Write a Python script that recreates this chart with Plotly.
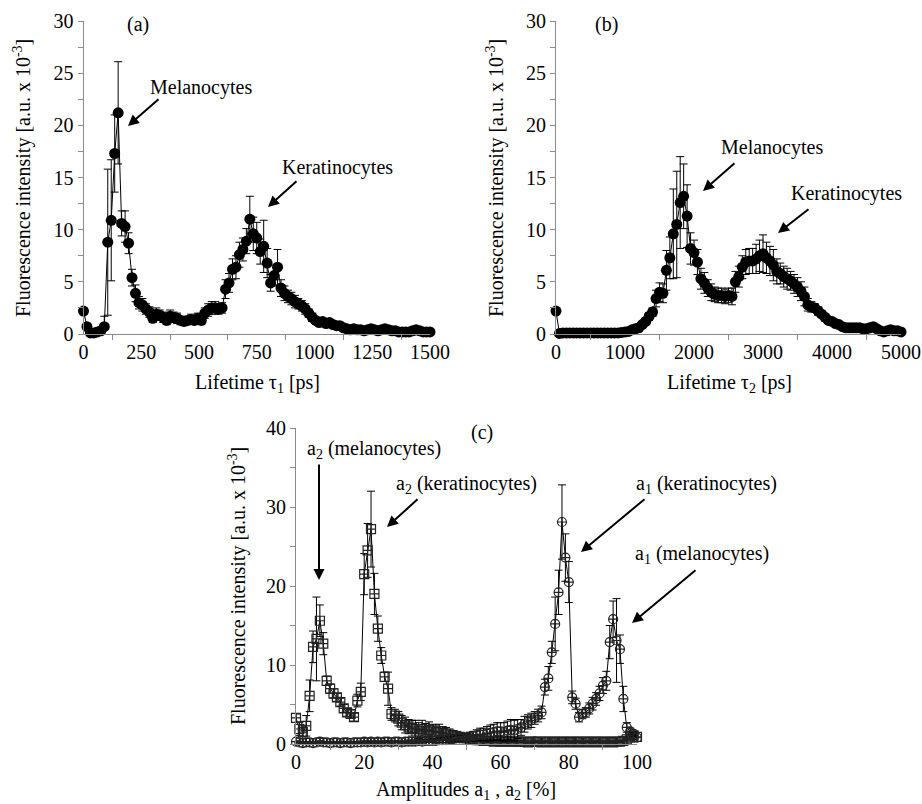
import plotly.graph_objects as go

W, H = 922, 804
FONT = "Liberation Serif, Times New Roman, Times, serif"

# ---------------- data ----------------
# Panel (a): lifetime tau1 [ps]
tau1_ps = list(range(0, 1501, 15))
intensity_a = [2.2, 0.7, 0.1, 0.1, 0.2, 0.3, 0.7, 8.8, 10.9, 17.3,
               21.2, 10.6, 10.3, 8.7, 5.4, 3.9, 3.0, 2.8, 2.4, 2.1,
               1.5, 1.9, 1.8, 1.6, 1.3, 1.7, 1.6, 1.5, 1.3, 1.2,
               1.3, 1.4, 1.3, 1.5, 1.3, 2.0, 2.3, 2.5, 2.5, 2.4,
               2.5, 4.3, 4.9, 6.2, 6.4, 7.6, 8.1, 8.9, 11.0, 9.6,
               9.2, 7.9, 8.4, 6.8, 4.9, 5.6, 6.4, 4.4, 3.9, 3.6,
               3.4, 3.1, 2.9, 2.7, 2.4, 2.0, 1.6, 1.3, 1.1, 1.2,
               1.0, 1.1, 0.9, 0.8, 0.8, 0.6, 0.5, 0.4, 0.5, 0.4,
               0.4, 0.3, 0.4, 0.5, 0.4, 0.3, 0.4, 0.5, 0.4, 0.3,
               0.3, 0.2, 0.2, 0.2, 0.2, 0.3, 0.4, 0.3, 0.2, 0.2,
               0.2]
error_a = [0.3, 0.2, 0.1, 0.1, 0.1, 0.2, 1.0, 7.0, 5.8, 3.7,
           4.9, 1.2, 1.5, 1.0, 0.8, 0.8, 0.6, 0.6, 0.5, 0.5,
           0.4, 0.6, 0.5, 0.5, 0.4, 0.6, 0.5, 0.5, 0.4, 0.4,
           0.4, 0.5, 0.4, 0.5, 0.4, 0.5, 0.6, 0.6, 0.6, 0.5,
           0.5, 0.9, 0.9, 1.0, 1.1, 1.2, 1.1, 1.2, 2.2, 1.6,
           1.5, 1.2, 2.5, 1.4, 0.8, 1.0, 1.7, 0.8, 0.7, 0.6,
           0.6, 0.6, 0.5, 0.5, 0.5, 0.4, 0.4, 0.3, 0.3, 0.3,
           0.3, 0.3, 0.2, 0.2, 0.2, 0.2, 0.2, 0.1, 0.2, 0.1,
           0.1, 0.1, 0.1, 0.2, 0.1, 0.1, 0.1, 0.2, 0.1, 0.1,
           0.1, 0.1, 0.1, 0.1, 0.1, 0.1, 0.2, 0.1, 0.1, 0.1,
           0.1]

# Panel (b): lifetime tau2 [ps]
tau2_ps = list(range(0, 5001, 50))
intensity_b = [2.2, 0.05, 0.1, 0.1, 0.1, 0.1, 0.1, 0.1, 0.1, 0.1,
               0.1, 0.1, 0.1, 0.1, 0.1, 0.1, 0.1, 0.1, 0.1, 0.15,
               0.2, 0.25, 0.4, 0.5, 0.6, 0.9, 1.2, 1.7, 2.1, 3.4,
               4.0, 3.9, 6.1, 7.3, 9.6, 10.5, 12.6, 13.2, 11.3, 8.2,
               7.8, 6.9, 5.3, 4.9, 4.4, 4.0, 3.8, 3.7, 3.7, 3.6,
               3.7, 3.6, 5.0, 5.5, 6.4, 6.9, 7.0, 7.0, 7.2, 7.5,
               7.7, 7.3, 7.0, 6.6, 6.0, 5.8, 5.5, 5.3, 5.1, 4.8,
               4.5, 4.1, 3.6, 2.8, 2.6, 2.5, 2.2, 1.9, 1.6, 1.3,
               1.2, 1.0, 0.9, 0.7, 0.6, 0.6, 0.6, 0.6, 0.6, 0.5,
               0.5, 0.6, 0.7, 0.5, 0.3, 0.2, 0.3, 0.4, 0.3, 0.3,
               0.2]
error_b = [0.2, 0.05, 0.05, 0.05, 0.05, 0.05, 0.05, 0.05, 0.05, 0.05,
           0.05, 0.05, 0.05, 0.05, 0.05, 0.05, 0.05, 0.05, 0.05, 0.05,
           0.1, 0.1, 0.1, 0.1, 0.2, 0.2, 0.3, 0.3, 0.4, 0.8,
           0.9, 0.9, 1.9, 2.0, 4.3, 5.1, 4.4, 3.1, 3.0, 1.5,
           1.2, 1.2, 1.0, 1.0, 0.8, 0.8, 0.7, 0.7, 0.7, 0.7,
           0.7, 0.8, 1.0, 1.0, 1.1, 1.2, 1.2, 1.2, 1.4, 1.5,
           1.8, 1.5, 1.4, 1.5, 1.2, 1.0, 1.0, 1.0, 0.9, 0.9,
           0.9, 0.9, 0.9, 0.6, 0.5, 0.4, 0.4, 0.3, 0.3, 0.3,
           0.2, 0.2, 0.2, 0.1, 0.1, 0.1, 0.1, 0.1, 0.1, 0.1,
           0.1, 0.1, 0.1, 0.1, 0.1, 0.1, 0.1, 0.1, 0.1, 0.1,
           0.1]

# Panel (c): amplitudes a1, a2 [%]
amplitude_pct = list(range(0, 101))
intensity_a2 = [3.3, 1.9, 1.5, 2.3, 6.1, 12.3, 13.3, 15.6, 12.7, 8.0,
                7.0, 6.4, 5.9, 5.3, 4.5, 4.0, 3.8, 3.4, 5.5, 6.6,
                21.5, 24.5, 27.2, 19.0, 14.6, 11.2, 8.5, 7.0, 3.8, 3.6,
                3.2, 2.7, 2.4, 2.2, 2.0, 1.9, 1.7, 1.9, 1.6, 1.8,
                1.6, 1.5, 1.6, 1.4, 1.3, 1.2, 1.1, 1.0, 0.9, 0.8,
                0.7, 0.6, 0.6, 0.5, 0.5, 0.4, 0.4, 0.4, 0.3, 0.4,
                0.3, 0.3, 0.4, 0.3, 0.3, 0.3, 0.3, 0.3, 0.2, 0.3,
                0.3, 0.3, 0.2, 0.3, 0.3, 0.2, 0.3, 0.3, 0.2, 0.3,
                0.3, 0.2, 0.3, 0.3, 0.2, 0.3, 0.3, 0.2, 0.3, 0.3,
                0.2, 0.3, 0.3, 0.2, 0.3, 0.3, 0.4, 0.6, 0.8, 1.1,
                0.9]
error_a2 = [0.5, 0.8, 0.8, 1.3, 2.0, 2.0, 5.3, 2.0, 1.4, 0.6,
            0.6, 0.6, 0.5, 0.5, 0.5, 0.5, 0.5, 0.5, 0.8, 1.1,
            2.6, 3.4, 4.8, 2.6, 1.6, 1.0, 0.6, 2.1, 0.8, 0.8,
            0.9, 0.9, 1.0, 0.9, 1.0, 1.1, 1.0, 1.1, 1.0, 1.0,
            0.9, 0.9, 0.9, 0.8, 0.8, 0.7, 0.6, 0.6, 0.5, 0.4,
            0.4, 0.3, 0.3, 0.2, 0.2, 0.2, 0.2, 0.2, 0.1, 0.1,
            0.1, 0.1, 0.1, 0.1, 0.1, 0.1, 0.1, 0.1, 0.1, 0.1,
            0.1, 0.1, 0.1, 0.1, 0.1, 0.1, 0.1, 0.1, 0.1, 0.1,
            0.1, 0.1, 0.1, 0.1, 0.1, 0.1, 0.1, 0.1, 0.1, 0.1,
            0.1, 0.1, 0.1, 0.1, 0.1, 0.1, 0.1, 0.2, 0.2, 0.3,
            0.3]
intensity_a1 = [0.3, 0.2, 0.1, 0.2, 0.2, 0.1, 0.2, 0.3, 0.2, 0.2,
                0.1, 0.2, 0.2, 0.1, 0.2, 0.2, 0.1, 0.2, 0.2, 0.2,
                0.3, 0.2, 0.3, 0.2, 0.3, 0.2, 0.3, 0.3, 0.2, 0.3,
                0.3, 0.2, 0.3, 0.3, 0.3, 0.3, 0.4, 0.3, 0.4, 0.4,
                0.4, 0.4, 0.5, 0.5, 0.5, 0.6, 0.6, 0.7, 0.7, 0.8,
                0.8, 0.9, 1.0, 1.1, 1.2, 1.2, 1.3, 1.4, 1.5, 1.6,
                1.6, 1.5, 1.7, 1.8, 1.7, 1.9, 2.1, 2.5, 2.8, 3.0,
                3.3, 3.6, 4.0, 7.2, 8.3, 11.6, 15.2, 19.2, 28.1, 23.6,
                20.5, 5.9, 5.1, 3.4, 3.8, 4.0, 4.5, 5.1, 5.7, 6.4,
                7.4, 8.0, 12.9, 15.8, 13.1, 12.0, 5.7, 2.1, 1.6, 1.3,
                0.8]
error_a1 = [0.1, 0.1, 0.1, 0.1, 0.1, 0.1, 0.1, 0.1, 0.1, 0.1,
            0.1, 0.1, 0.1, 0.1, 0.1, 0.1, 0.1, 0.1, 0.1, 0.1,
            0.1, 0.1, 0.1, 0.1, 0.1, 0.1, 0.1, 0.1, 0.1, 0.1,
            0.1, 0.1, 0.1, 0.2, 0.2, 0.2, 0.2, 0.2, 0.2, 0.2,
            0.2, 0.3, 0.3, 0.3, 0.3, 0.3, 0.4, 0.4, 0.4, 0.5,
            0.5, 0.6, 0.6, 0.7, 0.8, 0.8, 0.9, 1.0, 1.0, 1.1,
            1.1, 1.2, 1.2, 1.3, 1.3, 1.2, 1.0, 1.0, 0.9, 0.9,
            0.8, 0.8, 0.8, 1.0, 1.5, 1.4, 3.4, 2.8, 4.7, 3.0,
            2.6, 0.8, 0.7, 0.6, 0.6, 0.6, 0.7, 0.8, 0.8, 0.9,
            1.0, 1.2, 2.1, 2.3, 5.3, 1.8, 1.6, 0.6, 0.4, 0.3,
            0.2]

# ---------------- layout helpers ----------------
def px(x):
    return x / W

def py(y):
    return 1 - y / H

GRAY = "#8a8a8a"

def axis_style(**kw):
    d = dict(showline=True, linecolor=GRAY, linewidth=1, showgrid=False,
             zeroline=False, ticks="outside", tickcolor=GRAY, ticklen=5,
             tickwidth=1, automargin=False,
             tickfont=dict(family=FONT, size=20, color="black"))
    d.update(kw)
    return d

fig = go.Figure()

err_style = dict(type="data", color="black", thickness=1, width=4)

fig.add_trace(go.Scatter(
    x=tau1_ps, y=intensity_a, mode="lines+markers",
    line=dict(color="black", width=1),
    marker=dict(symbol="circle", size=11, color="black"),
    error_y=dict(array=error_a, **err_style),
    cliponaxis=False, xaxis="x", yaxis="y", showlegend=False))

fig.add_trace(go.Scatter(
    x=tau2_ps, y=intensity_b, mode="lines+markers",
    line=dict(color="black", width=1),
    marker=dict(symbol="circle", size=11, color="black"),
    error_y=dict(array=error_b, **err_style),
    cliponaxis=False, xaxis="x2", yaxis="y2", showlegend=False))

fig.add_trace(go.Scatter(
    x=amplitude_pct, y=intensity_a2, mode="lines+markers",
    line=dict(color="black", width=1),
    marker=dict(symbol="square-cross-open", size=9, color="#222222",
                line=dict(width=1.2)),
    error_y=dict(array=error_a2, **err_style),
    cliponaxis=False, xaxis="x3", yaxis="y3", showlegend=False))

fig.add_trace(go.Scatter(
    x=amplitude_pct, y=intensity_a1, mode="lines+markers",
    line=dict(color="black", width=1),
    marker=dict(symbol="circle-cross-open", size=9, color="#222222",
                line=dict(width=1.2)),
    error_y=dict(array=error_a1, **err_style),
    cliponaxis=False, xaxis="x3", yaxis="y3", showlegend=False))

fig.update_layout(
    template="none",
    width=W, height=H, autosize=False,
    margin=dict(l=0, r=0, t=0, b=0, pad=0),
    paper_bgcolor="white", plot_bgcolor="white",
    font=dict(family=FONT, size=20, color="black"),
    xaxis=axis_style(domain=[px(83.5), px(430)], range=[0, 1500],
                     tickvals=[0, 250, 500, 750, 1000, 1250, 1500], ticklen=0,
                     minor=dict(tick0=125, dtick=250, ticks="outside", ticklen=5,
                                tickcolor=GRAY), anchor="y"),
    yaxis=axis_style(domain=[py(334), py(21)], range=[0, 30], dtick=5,
                     minor=dict(tick0=2.5, dtick=5, ticks="outside", ticklen=5,
                                tickcolor=GRAY), anchor="x"),
    xaxis2=axis_style(domain=[px(556), px(901)], range=[0, 5000],
                      tickvals=[0, 1000, 2000, 3000, 4000, 5000], ticklen=0,
                      minor=dict(tick0=500, dtick=1000, ticks="outside", ticklen=5,
                                 tickcolor=GRAY), anchor="y2"),
    yaxis2=axis_style(domain=[py(334), py(21)], range=[0, 30], dtick=5,
                      minor=dict(tick0=2.5, dtick=5, ticks="outside", ticklen=5,
                                 tickcolor=GRAY), anchor="x2"),
    xaxis3=axis_style(domain=[px(296), px(637)], range=[0, 100],
                      tickvals=[0, 20, 40, 60, 80, 100], ticklen=0,
                      minor=dict(tick0=10, dtick=20, ticks="outside", ticklen=5,
                                 tickcolor=GRAY), anchor="y3"),
    yaxis3=axis_style(domain=[py(744), py(428)], range=[0, 40], dtick=10,
                      minor=dict(tick0=5, dtick=10, ticks="outside", ticklen=5,
                                 tickcolor=GRAY), anchor="x3"),
)

annotations = []

def label(text, x, y, angle=0, size=20):
    annotations.append(dict(text=text, x=px(x), y=py(y), xref="paper", yref="paper",
                            showarrow=False, textangle=angle, xanchor="center",
                            yanchor="middle",
                            font=dict(family=FONT, size=size, color="black")))

def arrow(tail, head):
    annotations.append(dict(text="", x=px(head[0]), y=py(head[1]), xref="paper",
                            yref="paper", showarrow=True, axref="pixel", ayref="pixel",
                            ax=tail[0] - head[0], ay=tail[1] - head[1],
                            arrowhead=2, arrowsize=1.1, arrowwidth=2,
                            arrowcolor="black", standoff=0, startstandoff=0))

ytitle = "Fluorescence intensity [a.u. x 10<sup>-3</sup>]"
label(ytitle, 23, 178, angle=-90)
label(ytitle, 496, 178, angle=-90)
label(ytitle, 237, 586, angle=-90)
label("Lifetime τ<sub>1</sub> [ps]", 257, 383)
label("Lifetime τ<sub>2</sub> [ps]", 729, 383)
label("Amplitudes a<sub>1</sub> , a<sub>2</sub> [%]", 466, 790)

label("(a)", 138, 25)
label("Melanocytes", 201, 87)
label("Keratinocytes", 337, 168)
arrow((160, 98), (128, 126))
arrow((298, 180), (268, 207))

label("(b)", 606, 25)
label("Melanocytes", 772, 148)
label("Keratinocytes", 846, 193)
arrow((736, 162), (703, 191))
arrow((810, 208), (778, 233))

label("(c)", 482, 432)
label("a<sub>2</sub> (melanocytes)", 374, 449)
label("a<sub>2</sub> (keratinocytes)", 466, 484)
label("a<sub>1</sub> (keratinocytes)", 706, 484)
label("a<sub>1</sub> (melanocytes)", 702, 554)
arrow((319, 463), (319, 580))
arrow((419, 498), (387, 527))
arrow((646, 498), (581, 552))
arrow((697, 569), (632, 623))

fig.update_layout(annotations=annotations)

fig.write_html(
    "out.html",
    config={"displayModeBar": False, "staticPlot": True},
    post_script="document.body.style.margin='0px';document.body.style.overflow='hidden';",
)
